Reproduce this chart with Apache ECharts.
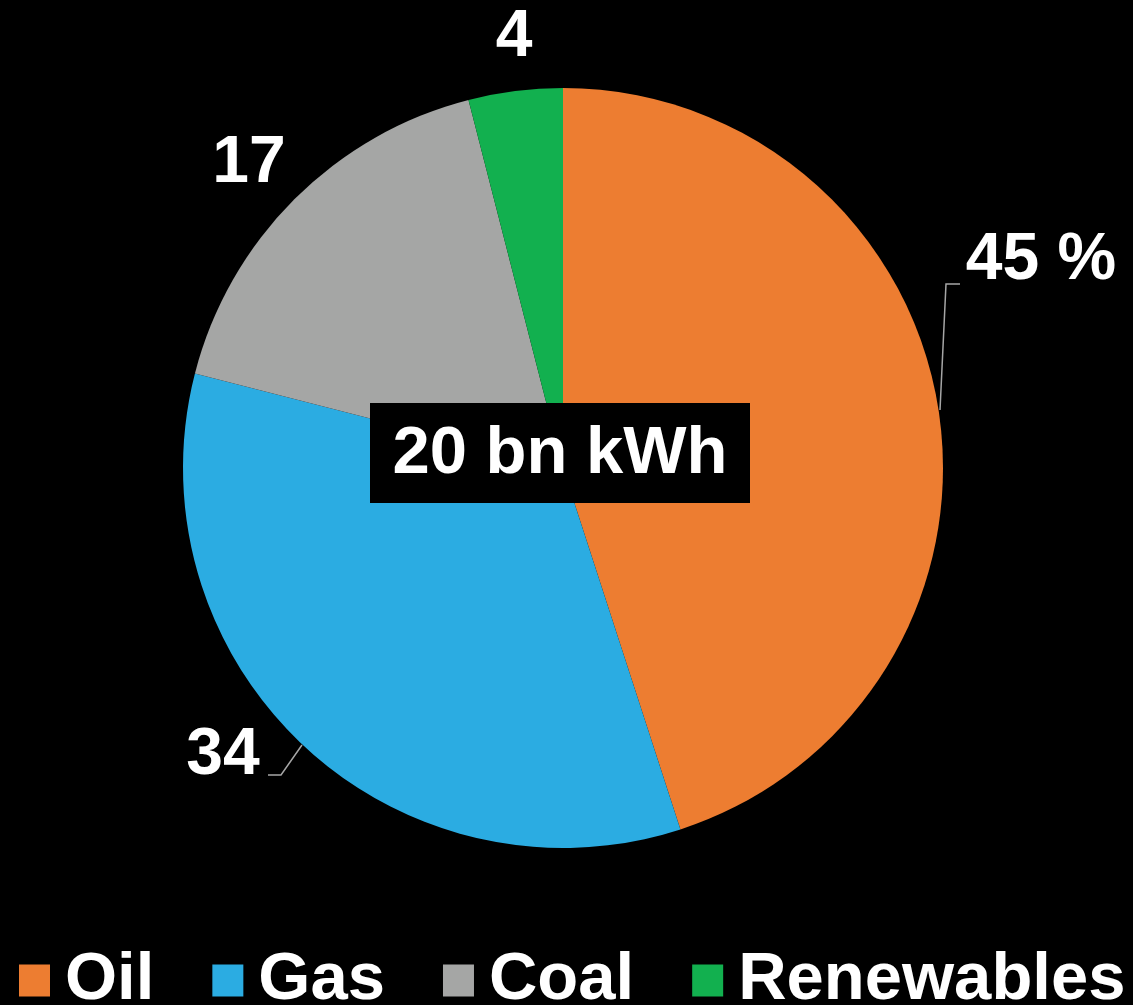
<!DOCTYPE html>
<html>
<head>
<meta charset="utf-8">
<script src="https://cdn.jsdelivr.net/npm/echarts@6/dist/echarts.min.js"></script>
<style>
  html, body { margin: 0; padding: 0; background: #000; }
  #chart { width: 1133px; height: 1005px; }
</style>
</head>
<body>
<div id="chart"></div>
<script>
// data
let sources = ['Oil', 'Gas', 'Coal', 'Renewables'];
let shares = [45, 34, 17, 4];
let labelTexts = ['45 %', '34', '17', '4'];
let totalText = '20 bn kWh';

// styling
let colors = ['#ED7D31', '#2BACE2', '#A5A6A5', '#12B04F'];
let labelSpots = [[1041, 261], [223, 756], [249, 164], [514, 38]];
let leaderLines = [
  [[940, 410], [946, 284], [960, 284]],
  [[302, 745], [281, 775], [268, 775]],
  null,
  null
];
let font = '"Liberation Sans", Arial, Helvetica, sans-serif';

let myChart = echarts.init(document.getElementById('chart'));

let pieData = sources.map(function (name, i) {
  return {
    name: name,
    value: shares[i],
    itemStyle: { color: colors[i] },
    label: { formatter: labelTexts[i] },
    labelLine: { show: leaderLines[i] !== null }
  };
});

myChart.setOption({
  backgroundColor: '#000',
  animation: false,
  legend: {
    data: sources,
    left: 14,
    top: 942,
    itemWidth: 31,
    itemHeight: 32,
    itemGap: 58,
    icon: 'rect',
    textStyle: {
      color: '#fff',
      fontFamily: font,
      fontWeight: 'bold',
      fontSize: 67,
      padding: [0, 0, 0, 10]
    }
  },
  series: [{
    type: 'pie',
    z: 2,
    center: [563, 468],
    radius: 380,
    startAngle: 90,
    clockwise: true,
    avoidLabelOverlap: false,
    data: pieData,
    label: {
      show: true,
      position: 'outside',
      overflow: 'none',
      color: '#fff',
      fontFamily: font,
      fontWeight: 'bold',
      fontSize: 66
    },
    labelLine: {
      show: true,
      lineStyle: { color: '#A6A6A6', width: 1.5 }
    },
    labelLayout: function (params) {
      let i = params.dataIndex;
      let out = {
        x: labelSpots[i][0],
        y: labelSpots[i][1],
        align: 'center',
        verticalAlign: 'middle'
      };
      if (leaderLines[i]) out.labelLinePoints = leaderLines[i];
      return out;
    },
    emphasis: { disabled: true }
  }],
  graphic: [{
    type: 'group',
    z: 100,
    children: [{
      type: 'rect',
      z: 100,
      shape: { x: 370, y: 403, width: 380, height: 100 },
      style: { fill: '#000' }
    }, {
      type: 'text',
      z: 101,
      x: 560,
      y: 455,
      style: {
        text: totalText,
        fill: '#fff',
        font: 'bold 67px ' + font,
        textAlign: 'center',
        textVerticalAlign: 'middle'
      }
    }]
  }]
});
</script>
</body>
</html>
